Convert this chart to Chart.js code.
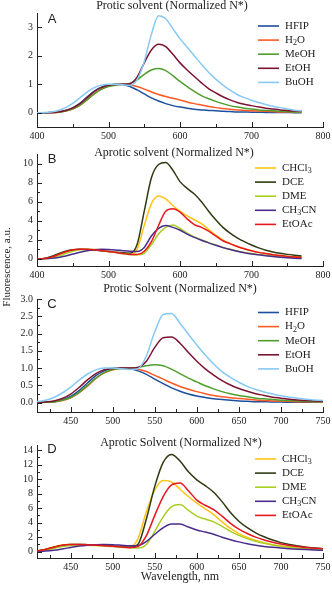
<!DOCTYPE html>
<html lang="en">
<head>
  <meta charset="UTF-8">
  <title>Fluorescence – protic / aprotic solvents</title>
  <script src="https://cdn.jsdelivr.net/npm/chart.js"></script>
  <style>
    body {
      margin: 0;
      padding: 0;
      background: #fff;
    }
    #wrap {
      position: relative;
      width: 332px;
      height: 589px;
      overflow: hidden;
    }
    #wrap canvas {
      position: absolute;
      left: 0;
    }
    #ylabel {
      position: absolute;
      left: -54px;
      top: 261px;
      width: 120px;
      line-height: 14px;
      text-align: center;
      font: 11px "Liberation Serif", serif;
      color: #222;
      transform: rotate(-90deg);
      white-space: nowrap;
    }
  </style>
</head>
<body>
  <div id="wrap">
    <canvas id="chartA" width="332" height="140" style="top:0"></canvas>
    <canvas id="chartB" width="332" height="140" style="top:140px"></canvas>
    <canvas id="chartC" width="332" height="145" style="top:280px"></canvas>
    <canvas id="chartD" width="332" height="164" style="top:425px"></canvas>
    <div id="ylabel">Fluorescence, a.u.</div>
  </div>

  <script>
    // wavelengths (nm)
    const wlAB = [400,410,420,430,440,450,460,470,480,490,500,510,520,530,540,550,560,570,580,590,600,610,620,630,640,650,660,670,680,690,700,710,720,730,740,750,760,770];
    const wlCD = [410,420,430,440,450,460,470,480,490,500,510,520,530,540,550,560,570,580,590,600,610,620,630,640,650,660,670,680,690,700,710,720,730,740,750];

    const proticNames = ['HFIP', 'H2O', 'MeOH', 'EtOH', 'BuOH'];
    const aproticNames = ['CHCl3', 'DCE', 'DME', 'CH3CN', 'EtOAc'];

    // A – protic, normalized N*
    const aHFIP = [0,0,0.01,0.03,0.08,0.17,0.33,0.55,0.76,0.9,0.97,1.0,0.99,0.92,0.8,0.66,0.52,0.41,0.32,0.25,0.2,0.16,0.12,0.1,0.08,0.07,0.05,0.04,0.03,0.03,0.02,0.02,0.01,0.01,0.01,0.01,0,0];
    const aH2O  = [0,0,0,0.02,0.06,0.13,0.26,0.45,0.66,0.83,0.94,0.99,1.0,0.98,0.92,0.83,0.73,0.64,0.57,0.51,0.45,0.38,0.32,0.27,0.22,0.18,0.15,0.12,0.1,0.08,0.07,0.06,0.05,0.04,0.03,0.03,0.02,0.02];
    const aMeOH = [0,0,0.01,0.02,0.06,0.14,0.27,0.46,0.66,0.82,0.92,0.97,1.0,1.03,1.15,1.35,1.5,1.55,1.48,1.3,1.1,0.92,0.75,0.6,0.49,0.4,0.32,0.25,0.2,0.16,0.13,0.1,0.08,0.07,0.05,0.04,0.03,0.03];
    const aEtOH = [0,0,0.01,0.03,0.08,0.17,0.32,0.53,0.74,0.88,0.96,0.99,1.0,1.02,1.25,1.75,2.2,2.4,2.32,2.05,1.75,1.5,1.27,1.05,0.85,0.7,0.56,0.45,0.36,0.3,0.25,0.2,0.16,0.13,0.1,0.08,0.06,0.05];
    const aBuOH = [0,0.01,0.03,0.08,0.18,0.33,0.52,0.72,0.88,0.97,1.0,1.0,0.98,0.96,1.15,1.8,2.75,3.4,3.3,2.95,2.6,2.3,2.0,1.7,1.42,1.18,0.97,0.79,0.64,0.53,0.44,0.36,0.29,0.23,0.18,0.13,0.09,0.06];

    // B – aprotic, normalized N*
    const bCHCl3 = [0,0.05,0.2,0.45,0.75,0.95,1.0,0.98,0.93,0.86,0.78,0.68,0.58,0.5,1.0,3.5,5.8,6.6,6.3,5.6,5.0,4.5,4.1,3.7,3.1,2.5,2.0,1.6,1.3,1.05,0.85,0.68,0.55,0.44,0.35,0.28,0.23,0.2];
    const bDCE   = [0,0.05,0.25,0.55,0.8,0.95,1.0,0.97,0.92,0.85,0.78,0.7,0.63,0.6,1.5,5.0,8.5,9.9,10.1,9.3,8.1,7.4,6.8,6.0,5.0,4.1,3.3,2.7,2.2,1.8,1.45,1.15,0.9,0.72,0.58,0.47,0.38,0.3];
    const bDME   = [0,0.02,0.1,0.3,0.55,0.8,0.95,1.0,0.97,0.9,0.8,0.68,0.55,0.45,0.42,0.6,1.5,2.6,3.3,3.55,3.2,2.7,2.3,2.0,1.7,1.45,1.2,1.0,0.83,0.68,0.56,0.45,0.37,0.29,0.22,0.16,0.12,0.1];
    const bCH3CN = [0,0.01,0.05,0.15,0.3,0.5,0.7,0.85,0.95,1.0,0.98,0.93,0.86,0.8,0.78,1.2,2.4,3.2,3.5,3.3,3.0,2.6,2.25,1.95,1.68,1.42,1.18,0.98,0.8,0.65,0.52,0.42,0.33,0.25,0.18,0.12,0.07,0.04];
    const bEtOAc = [0,0.04,0.18,0.45,0.75,0.93,1.0,1.0,0.96,0.88,0.78,0.66,0.55,0.46,0.45,0.8,1.8,3.5,5.0,5.25,4.9,4.2,3.6,3.3,2.9,2.4,1.9,1.6,1.3,1.05,0.85,0.68,0.55,0.43,0.34,0.26,0.2,0.15];

    // C – protic solvent
    const cHFIP = [0.0,0.01,0.03,0.08,0.18,0.35,0.57,0.78,0.92,0.99,1.0,0.98,0.92,0.82,0.68,0.55,0.43,0.33,0.25,0.19,0.15,0.11,0.09,0.07,0.05,0.04,0.03,0.03,0.02,0.02,0.01,0.01,0.01,0.01,0.01];
    const cH2O  = [0.0,0.01,0.02,0.06,0.14,0.28,0.48,0.7,0.86,0.95,0.99,1.0,0.97,0.9,0.79,0.68,0.57,0.47,0.39,0.32,0.26,0.21,0.17,0.14,0.12,0.1,0.08,0.06,0.05,0.05,0.04,0.03,0.03,0.02,0.02];
    const cMeOH = [0.0,0.01,0.02,0.07,0.15,0.3,0.5,0.71,0.87,0.96,0.99,1.0,1.02,1.07,1.1,1.07,0.97,0.84,0.71,0.6,0.49,0.4,0.32,0.26,0.21,0.17,0.13,0.11,0.09,0.07,0.06,0.05,0.04,0.03,0.03];
    const cEtOH = [0.01,0.02,0.05,0.12,0.25,0.44,0.66,0.84,0.95,0.99,1.0,1.0,1.02,1.2,1.6,1.88,1.9,1.72,1.45,1.2,0.98,0.8,0.64,0.51,0.41,0.33,0.26,0.21,0.16,0.13,0.1,0.08,0.06,0.05,0.04];
    const cBuOH = [0.03,0.07,0.15,0.28,0.45,0.65,0.83,0.95,1.0,1.0,0.98,0.96,0.98,1.35,2.05,2.55,2.58,2.3,1.98,1.67,1.38,1.12,0.9,0.73,0.59,0.47,0.38,0.31,0.25,0.2,0.16,0.13,0.1,0.08,0.06];

    // D – aprotic solvent
    const dCHCl3 = [0.1,0.35,0.7,0.92,1.0,0.98,0.94,0.88,0.82,0.76,0.7,0.65,1.8,5.5,8.5,9.8,9.6,8.6,7.6,6.7,5.9,5.1,4.1,3.2,2.5,1.95,1.55,1.22,0.97,0.78,0.63,0.52,0.43,0.37,0.32];
    const dDCE   = [0.1,0.3,0.6,0.85,0.98,1.0,0.97,0.92,0.85,0.78,0.7,0.62,1.0,4.5,9.0,12.3,13.4,12.5,11.0,9.9,9.1,8.2,6.9,5.4,4.2,3.3,2.6,2.05,1.6,1.25,1.0,0.8,0.62,0.5,0.4];
    const dDME   = [0.05,0.2,0.45,0.7,0.85,0.92,0.9,0.85,0.78,0.7,0.62,0.55,0.5,1.0,2.8,4.8,6.2,6.5,5.7,4.9,4.5,4.1,3.5,2.8,2.25,1.8,1.45,1.15,0.92,0.75,0.6,0.5,0.42,0.35,0.3];
    const dCH3CN = [0.02,0.08,0.2,0.38,0.58,0.77,0.9,0.97,1.0,0.97,0.9,0.82,0.85,1.4,2.4,3.3,3.8,3.8,3.4,3.0,2.7,2.4,2.0,1.65,1.35,1.1,0.9,0.73,0.6,0.5,0.42,0.35,0.29,0.24,0.2];
    const dEtOAc = [0.08,0.3,0.62,0.88,0.98,1.0,0.96,0.9,0.82,0.74,0.65,0.55,0.7,2.2,5.0,7.6,9.2,9.45,8.4,7.1,6.4,5.8,4.9,3.9,3.1,2.5,2.0,1.6,1.3,1.05,0.85,0.7,0.58,0.48,0.4];

    // tick labels / tick marks
    const xTicksAB = [400, 500, 600, 700, 800];
    const xMinorAB = [450, 550, 650, 750];
    const xTicksCD = [450, 500, 550, 600, 650, 700, 750];
    const xMinorCD = [425, 475, 525, 575, 625, 675, 725];
    const yTicksA = [0, 1, 2, 3];
    const yTicksB = [0, 2, 4, 6, 8, 10];
    const yMinorB = [1, 3, 5, 7, 9];
    const yTicksC = [0, 0.5, 1, 1.5, 2, 2.5, 3];
    const yMinorC = [0.25, 0.75, 1.25, 1.75, 2.25, 2.75];
    const yTicksD = [0, 2, 4, 6, 8, 10, 12, 14];
    const yMinorD = [1, 3, 5, 7, 9, 11, 13];

    const proticColors = ['#1c4f9e', '#ff5a24', '#4f9e2c', '#7c1431', '#86c9f4'];
    const aproticColors = ['#ffc417', '#2e3b12', '#a8cf22', '#4a2c8d', '#e5171f'];

    const SERIF = '"Liberation Serif", "Times New Roman", serif';

    // label with numeric subscripts (H2O, CHCl3 ...)
    function drawChemLabel(ctx, text, x, y) {
      const parts = text.match(/\d+|\D+/g);
      let cx = x;
      parts.forEach(p => {
        const sub = /^\d+$/.test(p);
        ctx.font = (sub ? '8px ' : '11px ') + SERIF;
        ctx.fillText(p, cx, sub ? y + 3 : y);
        cx += ctx.measureText(p).width;
      });
    }

    // inward ticks, title, panel letter and legend
    const decor = {
      id: 'decor',
      afterDraw(chart, args, o) {
        const ctx = chart.ctx;
        const a = chart.chartArea;
        const xs = chart.scales.x;
        const ys = chart.scales.y;
        ctx.save();

        ctx.strokeStyle = '#222';
        ctx.lineWidth = 1;
        ctx.beginPath();
        const xt = (list, len) => list.forEach(v => {
          const px = Math.round(xs.getPixelForValue(v)) + 0.5;
          ctx.moveTo(px, a.bottom);
          ctx.lineTo(px, a.bottom - len);
        });
        const yt = (list, len) => list.forEach(v => {
          const py = Math.round(ys.getPixelForValue(v)) + 0.5;
          ctx.moveTo(a.left, py);
          ctx.lineTo(a.left + len, py);
        });
        xt(o.xMajor, 5);
        xt(o.xMinor, 3);
        yt(o.yMajor, 5);
        yt(o.yMinor, 3);
        ctx.stroke();

        ctx.fillStyle = '#222';
        ctx.textBaseline = 'middle';

        ctx.textAlign = 'center';
        ctx.font = '12px ' + SERIF;
        ctx.fillText(o.title, o.titleX, o.titleY);
        if (o.xTitle) {
          ctx.fillText(o.xTitle, (a.left + a.right) / 2, o.xTitleY);
        }

        ctx.font = '13px "Liberation Sans", Arial, sans-serif';
        ctx.fillText(o.letter, o.letterX, o.letterY);

        // legend follows the original series order
        ctx.textAlign = 'left';
        o.names.forEach((name, i) => {
          const y = o.legY + i * o.legStep;
          ctx.strokeStyle = o.colors[i];
          ctx.lineWidth = 1.6;
          ctx.beginPath();
          ctx.moveTo(o.legX, y);
          ctx.lineTo(o.legX + 21, y);
          ctx.stroke();
          ctx.fillStyle = '#222';
          drawChemLabel(ctx, name, o.legX + 27, y);
        });

        ctx.restore();
      }
    };

    function makePanel(id, cfg) {
      const datasets = cfg.names.map((n, i) => ({
        label: n,
        data: cfg.series[i].map((v, j) => ({ x: cfg.wl[j], y: v })),
        borderColor: cfg.colors[i],
        borderWidth: 1.5,
        pointRadius: 0,
        fill: false,
        cubicInterpolationMode: 'monotone'
      }));
      const canvas = document.getElementById(id);
      const H = canvas.height;

      const axisFont = { family: SERIF, size: 10 };
      const gridOpts = { display: true, drawOnChartArea: false, drawTicks: false };
      const borderOpts = { display: true, color: '#222', width: 1 };

      return new Chart(canvas.getContext('2d'), {
        type: 'line',
        // last series drawn first so the first one ends up on top
        data: { datasets: datasets.reverse() },
        options: {
          responsive: false,
          animation: false,
          events: [],
          layout: { padding: { top: cfg.top, right: 9, left: 0, bottom: 0 } },
          plugins: {
            legend: { display: false },
            tooltip: { enabled: false },
            decor: {
              names: cfg.names, colors: cfg.colors,
              title: cfg.title, titleX: cfg.titleX, titleY: cfg.titleY,
              letter: cfg.letter, letterX: 52, letterY: cfg.letterY,
              legX: cfg.legX, legY: cfg.legY, legStep: 14.1,
              xMajor: cfg.xTicks, xMinor: cfg.xMinor,
              yMajor: cfg.yTicks, yMinor: cfg.yMinor,
              xTitle: cfg.xTitle, xTitleY: cfg.xTitleY
            }
          },
          scales: {
            x: {
              type: 'linear',
              min: cfg.xMin,
              max: cfg.xMax,
              grid: gridOpts,
              border: borderOpts,
              ticks: {
                color: '#222',
                font: axisFont,
                padding: 3,
                maxRotation: 0,
                autoSkip: false
              },
              afterBuildTicks: s => { s.ticks = cfg.xTicks.map(v => ({ value: v })); },
              afterFit: s => {
                s.height = H - cfg.bottom;
                s.paddingLeft = 0;
                s.paddingRight = 0;
              }
            },
            y: {
              min: cfg.yMin,
              max: cfg.yMax,
              grid: gridOpts,
              border: borderOpts,
              ticks: {
                color: '#222',
                font: axisFont,
                padding: 4,
                callback: cfg.yFmt
              },
              afterBuildTicks: s => { s.ticks = cfg.yTicks.map(v => ({ value: v })); },
              afterFit: s => {
                s.width = 37;
                s.paddingTop = 0;
                s.paddingBottom = 0;
              }
            }
          }
        },
        plugins: [decor]
      });
    }

    makePanel('chartA', {
      names: proticNames, colors: proticColors, wl: wlAB,
      series: [aHFIP, aH2O, aMeOH, aEtOH, aBuOH],
      xMin: 400, xMax: 800, yMin: -0.5, yMax: 3.5,
      xTicks: xTicksAB, xMinor: xMinorAB, yTicks: yTicksA, yMinor: [],
      top: 13, bottom: 127,
      title: 'Protic solvent (Normalized N*)', titleX: 172, titleY: 6,
      letter: 'A', letterY: 19, legX: 258, legY: 26
    });

    makePanel('chartB', {
      names: aproticNames, colors: aproticColors, wl: wlAB,
      series: [bCHCl3, bDCE, bDME, bCH3CN, bEtOAc],
      xMin: 400, xMax: 800, yMin: -0.75, yMax: 11,
      xTicks: xTicksAB, xMinor: xMinorAB, yTicks: yTicksB, yMinor: yMinorB,
      top: 14, bottom: 126,
      title: 'Aprotic solvent (Normalized N*)', titleX: 174, titleY: 13,
      letter: 'B', letterY: 19, legX: 255, legY: 28
    });

    makePanel('chartC', {
      names: proticNames, colors: proticColors, wl: wlCD,
      series: [cHFIP, cH2O, cMeOH, cEtOH, cBuOH],
      xMin: 410, xMax: 750, yMin: -0.27, yMax: 3.0,
      xTicks: xTicksCD, xMinor: xMinorCD, yTicks: yTicksC, yMinor: yMinorC,
      yFmt: v => v.toFixed(1),
      top: 19, bottom: 132,
      title: 'Protic Solvent (Normalized N*)', titleX: 180, titleY: 9,
      letter: 'C', letterY: 24, legX: 258, legY: 32.5
    });

    makePanel('chartD', {
      names: aproticNames, colors: aproticColors, wl: wlCD,
      series: [dCHCl3, dDCE, dDME, dCH3CN, dEtOAc],
      xMin: 410, xMax: 750, yMin: -0.87, yMax: 14.7,
      xTicks: xTicksCD, xMinor: xMinorCD, yTicks: yTicksD, yMinor: yMinorD,
      top: 20, bottom: 133,
      title: 'Aprotic Solvent (Normalized N*)', titleX: 181, titleY: 18,
      letter: 'D', letterY: 24, legX: 255, legY: 34,
      xTitle: 'Wavelength, nm', xTitleY: 152
    });
  </script>
</body>
</html>
